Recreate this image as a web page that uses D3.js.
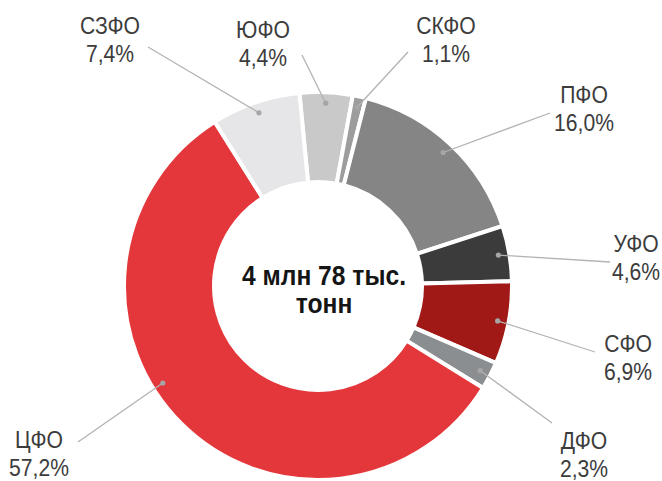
<!DOCTYPE html>
<html>
<head>
<meta charset="utf-8">
<script src="https://cdn.jsdelivr.net/npm/d3@7"></script>
<style>
  body { margin: 0; background: #fff; }
  svg text { font-family: "Liberation Sans", Arial, sans-serif; }
</style>
</head>
<body>
<div id="chart"></div>
<script>
// доли федеральных округов, %
const regions = ["ЮФО", "СКФО", "ПФО", "УФО", "СФО", "ДФО", "ЦФО", "СЗФО"];
const shares = [4.4, 1.1, 16.0, 4.6, 6.9, 2.3, 57.2, 7.4];
const shareLabels = ["4,4%", "1,1%", "16,0%", "4,6%", "6,9%", "2,3%", "57,2%", "7,4%"];
const totalLines = ["4 млн 78 тыс.", "тонн"];

const colors = ["#c9c9ca", "#9d9d9d", "#858585", "#3b3b3b", "#a01917", "#8b8e91", "#e4373b", "#e6e6e8"];

// ручная раскладка подписей: центр текста, точка конца выноски
const labelLayout = {
  "ЮФО":  { x: 263, y: 38,  end: [302, 55] },
  "СКФО": { x: 446, y: 34,  end: [408, 52] },
  "ПФО":  { x: 584, y: 103, end: [550, 113] },
  "УФО":  { x: 636, y: 252, end: [610, 262] },
  "СФО":  { x: 628, y: 352, end: [595, 352] },
  "ДФО":  { x: 584, y: 449, end: [552, 423] },
  "ЦФО":  { x: 39,  y: 448, end: [78, 442], dotAngle: 238 },
  "СЗФО": { x: 110, y: 34,  end: [148, 47] }
};

const width = 662, height = 481;
const cx = 318, cy = 286;
const rOuter = 194, rInner = 104, rDot = 183;
const start = -5.5 * Math.PI / 180;
const squeeze = 0.88; // узкое начертание

const svg = d3.select('#chart')
  .append('svg')
  .attr('width', width)
  .attr('height', height);

const g = svg.append('g').attr('transform', `translate(${cx},${cy})`);

const data = regions.map((name, i) => ({ name, value: shares[i], label: shareLabels[i], color: colors[i] }));

const pie = d3.pie()
  .sort(null)
  .value(d => d.value)
  .startAngle(start)
  .endAngle(start + 2 * Math.PI);

const arc = d3.arc().innerRadius(rInner).outerRadius(rOuter);
const arcs = pie(data);

g.selectAll('path.slice')
  .data(arcs)
  .enter()
  .append('path')
  .attr('class', 'slice')
  .attr('d', arc)
  .attr('fill', d => d.data.color)
  .attr('stroke', '#fff')
  .attr('stroke-width', 4)
  .attr('stroke-linejoin', 'miter');

function dotPos(d) {
  const lay = labelLayout[d.data.name];
  const a = lay.dotAngle !== undefined ? lay.dotAngle * Math.PI / 180 : (d.startAngle + d.endAngle) / 2;
  return [Math.sin(a) * rDot, -Math.cos(a) * rDot];
}

// выноски
g.selectAll('line.leader')
  .data(arcs)
  .enter()
  .append('line')
  .attr('class', 'leader')
  .attr('x1', d => dotPos(d)[0])
  .attr('y1', d => dotPos(d)[1])
  .attr('x2', d => labelLayout[d.data.name].end[0] - cx)
  .attr('y2', d => labelLayout[d.data.name].end[1] - cy)
  .attr('stroke', '#b3b3b3')
  .attr('stroke-width', 1.3);

g.selectAll('circle.dot')
  .data(arcs)
  .enter()
  .append('circle')
  .attr('class', 'dot')
  .attr('cx', d => dotPos(d)[0])
  .attr('cy', d => dotPos(d)[1])
  .attr('r', 2.6)
  .attr('fill', '#a6a6a6');

// подписи
const lbl = svg.selectAll('text.lbl')
  .data(arcs)
  .enter()
  .append('text')
  .attr('class', 'lbl')
  .attr('transform', d => `translate(${labelLayout[d.data.name].x},${labelLayout[d.data.name].y}) scale(${squeeze},1)`)
  .attr('text-anchor', 'middle')
  .attr('fill', '#3c3c3c')
  .attr('font-size', 24);

lbl.append('tspan')
  .attr('x', 0)
  .attr('y', 0)
  .text(d => d.data.name);

lbl.append('tspan')
  .attr('x', 0)
  .attr('y', 28)
  .text(d => d.data.label);

// центр
svg.append('text')
  .attr('transform', `translate(324,285) scale(${squeeze},1)`)
  .attr('text-anchor', 'middle')
  .attr('font-weight', 'bold')
  .attr('font-size', 28)
  .attr('fill', '#151515')
  .selectAll('tspan')
  .data(totalLines)
  .enter()
  .append('tspan')
  .attr('x', 0)
  .attr('y', (d, i) => i * 28)
  .text(d => d);
</script>
</body>
</html>
